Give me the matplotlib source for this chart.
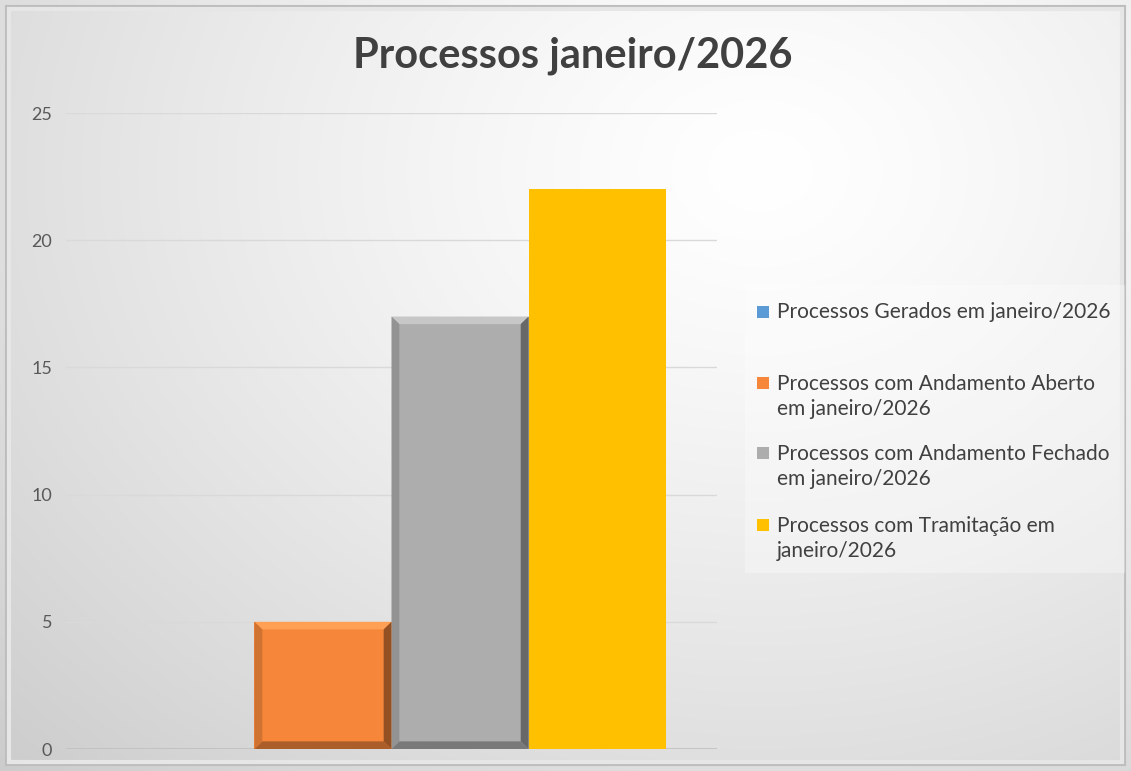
import numpy as np
import matplotlib.pyplot as plt
from matplotlib.patches import Rectangle, Polygon

# chart data
title = 'Processos janeiro/2026'
series = ['Processos Gerados em janeiro/2026',
          'Processos com Andamento Aberto\nem janeiro/2026',
          'Processos com Andamento Fechado\nem janeiro/2026',
          'Processos com Tramitação em\njaneiro/2026']
values = [0, 5, 17, 22]
colors = ['#5B9BD5', '#F5863A', '#ADADAD', '#FFC000']
bevel = [True, True, True, False]
yticks = [0, 5, 10, 15, 20, 25]

plt.rcParams['font.family'] = ['Lato', 'DejaVu Sans']

W, H = 1131, 771
fig = plt.figure(figsize=(W / 100, H / 100), dpi=100)

# radial background gradient
bg = fig.add_axes([0, 0, 1, 1], zorder=-10)
yy, xx = np.mgrid[0:H, 0:W]
r = np.sqrt(((xx - 760) / 950.0) ** 2 + ((yy - 170) / 750.0) ** 2)
shade = 1.0 - 0.17 * np.clip(r, 0, 1.2) ** 1.3
img = np.dstack([shade, shade, shade])
bg.imshow(img, extent=[0, W, H, 0], aspect='auto')
bg.set_xlim(0, W)
bg.set_ylim(H, 0)
bg.axis('off')
# frame
bg.add_patch(Rectangle((6, 6), W - 12, H - 12, fill=False, ec='#bdbdbd', lw=1.5))
bg.add_patch(Rectangle((9, 9), W - 18, H - 18, fill=False, ec='#e6e6e6', lw=3))
# legend backdrop
bg.add_patch(Rectangle((745, 285), 380, 288, fc='white', alpha=0.3, ec='none'))

ax = fig.add_axes([66 / W, 22 / H, 651 / W, 636 / H])
ax.patch.set_alpha(0)
n = len(values)
gap = 0.158
bw = (1 - gap) / n
xs = -0.5 + gap / 2 + bw * (np.arange(n) + 0.5)
bars = ax.bar(xs, values, width=bw, color=colors, zorder=3)

ex = 0.012
ey = 0.3
for b, on in zip(bars, bevel):
    h = b.get_height()
    if h <= 0 or not on:
        continue
    x0, x1 = b.get_x(), b.get_x() + b.get_width()
    fc = np.array(plt.matplotlib.colors.to_rgb(b.get_facecolor()))
    light = np.clip(fc + 0.1, 0, 1)
    dark = fc * 0.6
    mid = fc * 0.85
    ax.add_patch(Polygon([(x0, h), (x1, h), (x1 - ex, h - ey), (x0 + ex, h - ey)],
                         fc=light, ec='none', zorder=4))
    ax.add_patch(Polygon([(x1, h), (x1, 0), (x1 - ex, ey), (x1 - ex, h - ey)],
                         fc=dark, ec='none', zorder=4))
    ax.add_patch(Polygon([(x0, 0), (x1, 0), (x1 - ex, ey), (x0 + ex, ey)],
                         fc=fc * 0.7, ec='none', zorder=4))
    ax.add_patch(Polygon([(x0, 0), (x0, h), (x0 + ex, h - ey), (x0 + ex, ey)],
                         fc=mid, ec='none', zorder=4))

ax.set_xlim(-0.5, 0.5)
ax.set_ylim(0, 25)
ax.set_yticks(yticks)
ax.yaxis.grid(True, color='#d9d9d9', lw=1, zorder=0)
ax.axhline(0, color='#bfbfbf', lw=1.2, zorder=2)
ax.set_xticks([])
for s in ax.spines.values():
    s.set_visible(False)
ax.tick_params(axis='y', length=0, pad=10, labelsize=13, labelcolor='#595959')

fig.text(573 / W, 1 - 56 / H, title, ha='center', va='center',
         fontsize=30, fontweight='bold', color='#404040')

# legend: marker sits on the first line of each entry
leg_top = [312, 383, 453, 525]
line_h = 27
for lab, c, y1 in zip(series, colors, leg_top):
    nl = lab.count('\n') + 1
    yc = y1 + (nl - 1) * line_h / 2
    fig.patches.append(Rectangle((757 / W, 1 - (y1 + 6) / H), 12 / W, 12 / H,
                                 transform=fig.transFigure, fc=c, ec='none'))
    fig.text(777 / W, 1 - yc / H, lab, ha='left', va='center', fontsize=15,
             color='#404040', linespacing=1.32)

fig.savefig('out.png', dpi=100)
